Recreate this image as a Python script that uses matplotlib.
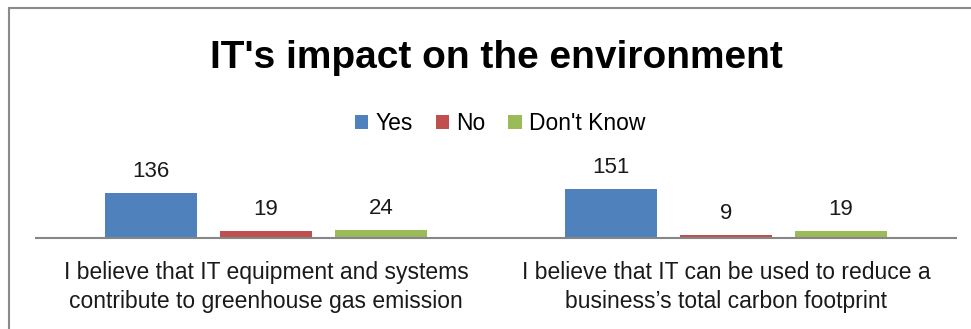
import matplotlib
matplotlib.use("Agg")
import matplotlib.pyplot as plt
from matplotlib.patches import Rectangle
import numpy as np

# Survey results
categories = ["I believe that IT equipment and systems\ncontribute to greenhouse gas emission",
              "I believe that IT can be used to reduce a\nbusiness\u2019s total carbon footprint"]
series = ["Yes", "No", "Don't Know"]
yes = [136, 151]
no = [19, 9]
dont_know = [24, 19]
colors = ["#4F81BD", "#C0504D", "#9BBB59"]

plt.rcParams["font.family"] = ["Liberation Sans", "DejaVu Sans"]

W, H = 971, 329
fig = plt.figure(figsize=(W / 100, H / 100), dpi=100)
ax = fig.add_axes([36 / W, (H - 237.5) / H, 920 / W, 97.2 / H])

x = np.arange(len(categories))
width = 0.2
offsets = [-0.25, 0, 0.25]
for vals, off, col, name in zip([yes, no, dont_know], offsets, colors, series):
    bars = ax.bar(x + off, vals, width, color=col, label=name, zorder=1)
    for b, v in zip(bars, vals):
        ax.annotate(str(v), (b.get_x() + b.get_width() / 2, v),
                    xytext=(0, 11.5), textcoords="offset points",
                    ha="center", va="baseline", fontsize=16, color="#1a1a1a")

ax.set_xlim(-0.5, 1.5)
ax.set_ylim(0, 300)
ax.set_yticks([])
ax.set_xticks(x)
ax.set_xticklabels(categories, fontsize=16.5, color="#1a1a1a", linespacing=1.35)
ax.tick_params(axis="x", length=0, pad=17)
for s in ["top", "right", "left"]:
    ax.spines[s].set_visible(False)
ax.spines["bottom"].set_color("#868686")
ax.spines["bottom"].set_linewidth(1.5)
ax.patch.set_alpha(0)

fig.text(496 / W, (H - 68) / H, "IT's impact on the environment",
         ha="center", va="baseline", fontsize=28, fontweight="bold")

fig.legend(loc="center", bbox_to_anchor=(500 / W, (H - 123.5) / H), ncol=3,
           frameon=False, fontsize=16.5, handlelength=0.6, handleheight=0.6,
           handletextpad=0.3, columnspacing=1.0, borderaxespad=0)

# outer frame (only top and left edges fall inside the canvas)
fig.add_artist(Rectangle((8.5 / W, -0.2), 1.5, 1.2 - 7.5 / H,
                         transform=fig.transFigure, fill=False,
                         edgecolor="#8a8a8a", linewidth=1.5, clip_on=False))

fig.savefig("out.png", dpi=100)
